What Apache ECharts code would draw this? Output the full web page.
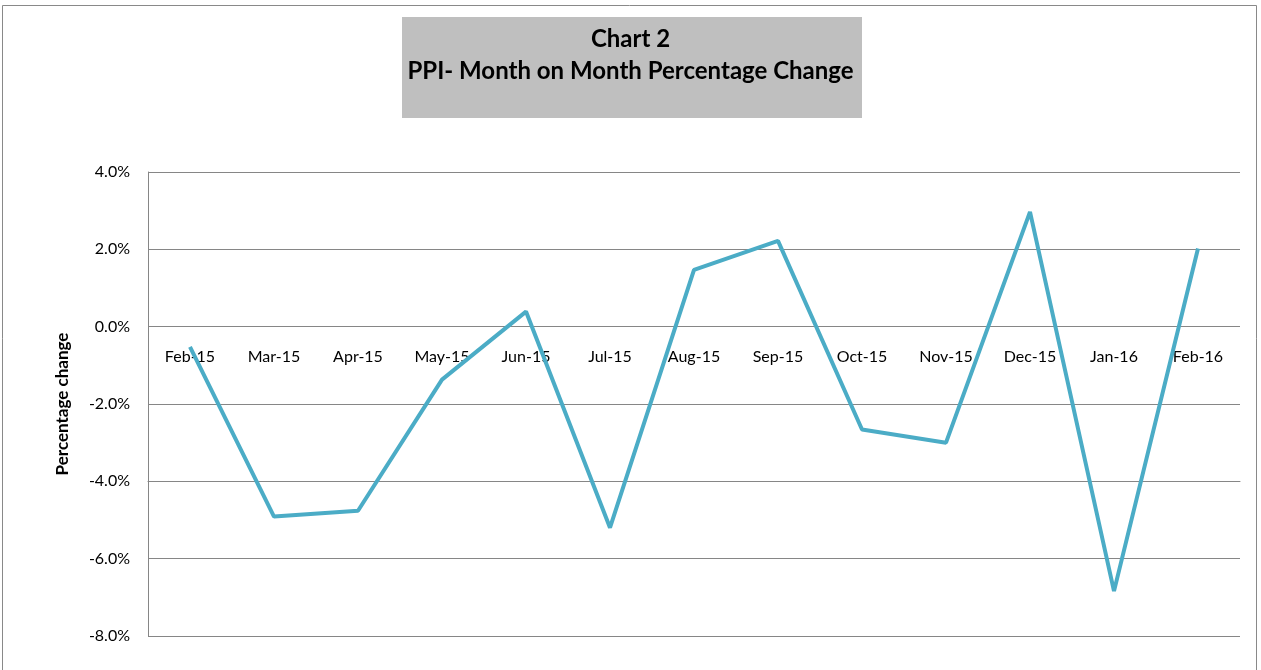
<!DOCTYPE html>
<html>
<head>
<meta charset="utf-8">
<script src="https://cdn.jsdelivr.net/npm/echarts@6/dist/echarts.min.js"></script>
<style>
  html, body { margin: 0; padding: 0; background: #fff; }
  #chart { width: 1261px; height: 670px; }
</style>
</head>
<body>
<div id="chart"></div>
<script>
// months on the category axis
var months = ['Feb-15', 'Mar-15', 'Apr-15', 'May-15', 'Jun-15', 'Jul-15', 'Aug-15',
              'Sep-15', 'Oct-15', 'Nov-15', 'Dec-15', 'Jan-16', 'Feb-16'];
// PPI month on month % change
var ppiChange = [-0.52, -4.91, -4.76, -1.37, 0.39, -5.20, 1.47,
                 2.22, -2.66, -3.00, 2.97, -6.84, 2.02];
var yTicks = { min: -8, max: 4, step: 2 };

var font = 'Lato, "Open Sans", sans-serif';
var gridTop = 172, gridBottom = 34, chartH = 670;
// x axis labels sit at the zero line (Excel style "low" crossing at 0)
var plotH = chartH - gridTop - gridBottom;
var zeroOffset = -plotH * (0 - yTicks.min) / (yTicks.max - yTicks.min);

var chart = echarts.init(document.getElementById('chart'));

var option = {
  backgroundColor: '#fff',
  animation: false,
  title: {
    text: 'Chart 2\nPPI- Month on Month Percentage Change',
    left: 'center',
    top: 18,
    textStyle: {
      fontFamily: font,
      fontSize: 24,
      fontWeight: 'bold',
      color: '#000',
      lineHeight: 32
    }
  },
  graphic: [
    { // outer chart frame
      type: 'rect',
      shape: { x: 2.5, y: 5.5, width: 1254, height: 680 },
      style: { fill: 'none', stroke: '#898989', lineWidth: 1 },
      silent: true
    },
    { // grey title box
      type: 'rect',
      shape: { x: 402, y: 17, width: 460, height: 101 },
      style: { fill: '#BFBFBF' },
      silent: true,
      z: -1
    }
  ],
  grid: { left: 148, right: 21, top: gridTop, bottom: gridBottom },
  xAxis: {
    type: 'category',
    data: months,
    boundaryGap: true,
    offset: zeroOffset,
    axisLine: { show: true, lineStyle: { color: '#868686', width: 1 } },
    axisTick: { show: false },
    axisLabel: { margin: 22, fontFamily: font, fontSize: 16, color: '#000' }
  },
  yAxis: {
    type: 'value',
    min: yTicks.min,
    max: yTicks.max,
    interval: yTicks.step,
    name: 'Percentage change',
    nameLocation: 'middle',
    nameGap: 77,
    nameTextStyle: { fontFamily: font, fontSize: 17, fontWeight: 'bold', color: '#000' },
    axisLine: { show: true, lineStyle: { color: '#868686', width: 1 } },
    axisTick: { show: false },
    splitLine: { show: true, lineStyle: { color: '#868686', width: 1 } },
    axisLabel: {
      margin: 18,
      fontFamily: font,
      fontSize: 16,
      color: '#000',
      formatter: function (v) { return v.toFixed(1) + '%'; }
    }
  },
  series: [{
    type: 'line',
    data: ppiChange,
    symbol: 'none',
    lineStyle: { color: '#4BACC6', width: 4 },
    z: 3
  }]
};

chart.setOption(option);
</script>
</body>
</html>
